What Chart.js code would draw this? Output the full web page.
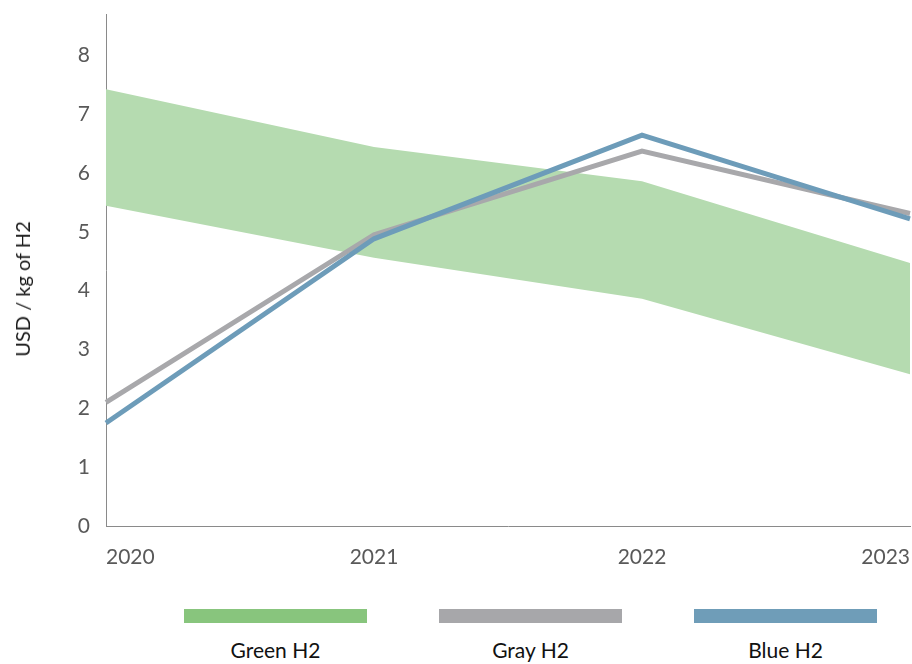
<!DOCTYPE html>
<html>
<head>
<meta charset="utf-8">
<script src="https://cdn.jsdelivr.net/npm/chart.js@4"></script>
<style>
  html, body { margin: 0; padding: 0; background: #fff; }
  #wrap { position: relative; width: 912px; height: 664px; font-family: Lato, "Open Sans", sans-serif; }
  #cv { position: absolute; left: 0; top: 0; }
  #ytitle { position: absolute; left: 22px; top: 289px; transform: translate(-50%, -50%) rotate(-90deg); white-space: nowrap; font-size: 20px; color: #1a1a1a; }
  .lg { position: absolute; top: 609px; width: 183px; text-align: center; }
  .lg .box { height: 14px; width: 183px; }
  .lg .txt { margin-top: 14px; font-size: 21px; color: #111; }
</style>
</head>
<body>
<div id="wrap">
  <canvas id="cv" width="912" height="580"></canvas>
  <div id="ytitle">USD / kg of H2</div>
  <div id="legend"></div>
</div>
<script>
const years = ["2020", "2021", "2022", "2023"];
const greenLow = [5.44, 4.56, 3.86, 2.58];
const greenHigh = [7.42, 6.44, 5.86, 4.47];
const grayH2 = [2.10, 4.95, 6.37, 5.31];
const blueH2 = [1.75, 4.88, 6.64, 5.22];
const yTicks = [0, 1, 2, 3, 4, 5, 6, 7, 8];
const legendNames = ["Green H2", "Gray H2", "Blue H2"];
const legendColors = ["#88c57d", "#a7a7aa", "#6f9db8"];
const legendLefts = [184, 439, 694];

const lg = document.getElementById('legend');
legendNames.forEach((n, i) => {
  const d = document.createElement('div');
  d.className = 'lg';
  d.style.left = legendLefts[i] + 'px';
  d.innerHTML = '<div class="box" style="background:' + legendColors[i] + '"></div><div class="txt">' + n + '</div>';
  lg.appendChild(d);
});

function zeroPad(s) { s.paddingTop = 0; s.paddingBottom = 0; s.paddingLeft = 0; s.paddingRight = 0; }

const ctx = document.getElementById('cv').getContext('2d');
new Chart(ctx, {
  type: 'line',
  data: {
    labels: years,
    datasets: [
      { label: 'Green low', data: greenLow, borderWidth: 0, pointRadius: 0, fill: false, order: 3, tension: 0 },
      { label: 'Green H2', data: greenHigh, borderWidth: 0, pointRadius: 0, fill: '-1', backgroundColor: '#b5dbb0', order: 3, tension: 0 },
      { label: 'Gray H2', data: grayH2, borderColor: '#a8a8ab', borderWidth: 5, pointRadius: 0, fill: false, order: 2, tension: 0, borderJoinStyle: 'miter' },
      { label: 'Blue H2', data: blueH2, borderColor: '#6d9cb9', borderWidth: 5, pointRadius: 0, fill: false, order: 1, tension: 0, borderJoinStyle: 'miter' }
    ]
  },
  options: {
    responsive: false,
    animation: false,
    layout: { padding: { top: 14, right: 2, left: 0, bottom: 0 } },
    plugins: { legend: { display: false }, tooltip: { enabled: false } },
    scales: {
      x: {
        offset: false,
        grid: { display: false, drawTicks: false },
        border: { display: true, color: '#8a8a8a', width: 1 },
        ticks: { align: 'inner', color: '#595959', font: { family: 'Lato', size: 21 }, padding: 19, maxRotation: 0, autoSkip: false },
        afterFit: (s) => { s.height = 54; zeroPad(s); }
      },
      y: {
        min: 0, max: 8.7,
        grid: { display: false, drawTicks: false },
        border: { display: true, color: '#8a8a8a', width: 1 },
        ticks: { color: '#595959', font: { family: 'Lato', size: 21 }, padding: 16 },
        afterBuildTicks: (s) => { s.ticks = yTicks.map(v => ({ value: v })); },
        afterFit: (s) => { s.width = 106; zeroPad(s); }
      }
    }
  }
});
</script>
</body>
</html>
